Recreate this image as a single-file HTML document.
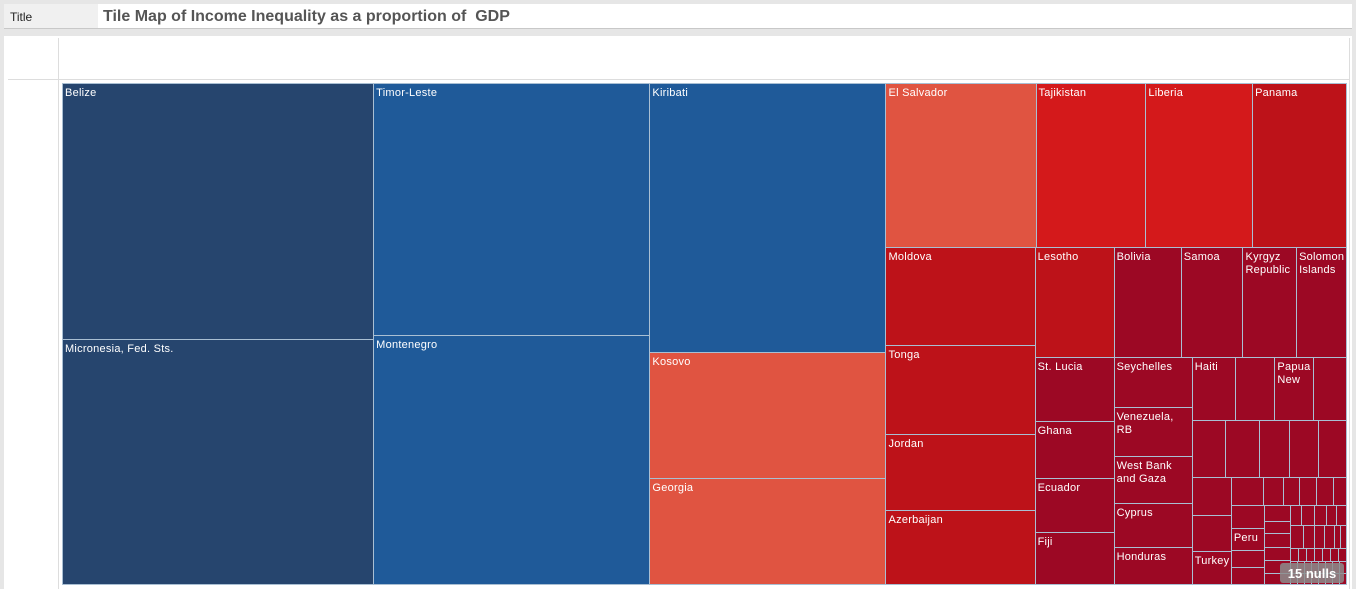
<!DOCTYPE html>
<html><head><meta charset="utf-8"><style>
body{margin:0;width:1356px;height:589px;background:#e6e6e6;font-family:"Liberation Sans",Arial,sans-serif;position:relative;overflow:hidden}
#titlebar{position:absolute;left:4px;top:4px;width:1348px;height:24px;background:#fff;border-bottom:1px solid #c8c8c8}
#tlabel{position:absolute;left:0;top:0;width:94px;height:24px;background:#f0f0f0;font-size:12px;line-height:26px;padding-left:6px;box-sizing:border-box;color:#222}
#ttext{position:absolute;left:99px;top:0;font-size:16px;font-weight:bold;color:#555;line-height:26px}
#panel{position:absolute;left:4px;top:36px;width:1348px;height:553px;background:#fff}
#vline{position:absolute;left:58px;top:38px;width:1px;height:551px;background:#ddd}
#hline{position:absolute;left:8px;top:79px;width:1342px;height:1px;background:#ddd}
#rline{position:absolute;left:1349px;top:38px;width:1px;height:551px;background:#ddd}
.tile{position:absolute;box-sizing:border-box;border:1px solid #a9bfd3;color:#fff;font-size:11px;letter-spacing:0.25px;line-height:13px;padding:3px 2px;overflow:hidden}
#nulls{position:absolute;left:1280px;top:563px;width:64px;height:20px;background:rgba(140,140,140,0.85);border-radius:3px;color:#fff;font-weight:bold;font-size:13px;line-height:21px;text-align:center}
</style></head><body>
<div id="titlebar"><div id="tlabel">Title</div><div id="ttext">Tile Map of Income Inequality as a proportion of&nbsp; GDP</div></div>
<div id="panel"></div>
<div id="vline"></div>
<div id="hline"></div>
<div id="rline"></div>
<div id="plot"></div>
<div id="nulls">15 nulls</div>
<script>
const tileNames = ["Belize","Micronesia, Fed. Sts.","Timor-Leste","Montenegro","Kiribati","Kosovo","Georgia",
"El Salvador","Tajikistan","Liberia","Panama","Moldova","Tonga","Jordan","Azerbaijan",
"Lesotho","Bolivia","Samoa","Kyrgyz Republic","Solomon Islands",
"St. Lucia","Ghana","Ecuador","Fiji","Seychelles","Venezuela, RB","West Bank and Gaza","Cyprus","Honduras",
"Haiti","","Papua New","","","","","","","","","Turkey",
"","","","","","","","Peru","","","","","","","","","","","","","","","","","","","","","","","","","","","","","","","","","","","","","","","","","","","",""];
const tileValues = [796,762,696,687,635,297,250,
246,180,175,154,146,133,113,110,
87,74,68,59,55,
50,45,43,41,39,38,37,34,29,
27,25,24,21,19,19,17,16,16,15,14,13,
9.2,5.6,4.5,4.8,4.8,3.6,
7.6,7.3,5.9,5.6,
4,3.3,3.5,3.3,3.3,2.8,
2.4,2.6,2.4,2.2,2,
3.1,2.4,2.2,2.2,1.5,1.3,
1,1,1,1,1,1,1,
0.85,0.85,0.85,0.85,0.85,0.85,0.85,0.85,
0.8,0.8,0.8,0.8,0.8,0.8,0.8,0.8];
const tileColors = ["#26456e","#26456e","#1f5a99","#1f5a99","#1f5a99","#e05441","#e05441",
"#e05441","#d4191b","#d4191b","#bd1219","#bd1219","#bd1219","#bd1219","#bd1219","#bd1219"];
const darkRed = "#9c0824";
function r(a,b){const o=[];for(let i=a;i<=b;i++)o.push(i);return o;}
const tree = ['h',[['v',[0,1]],['v',[2,3]],['v',[4,5,6]],
 ['v',[['h',[7,8,9,10]],
  ['h',[['v',[11,12,13,14]],
   ['v',[['h',[15,16,17,18,19]],
    ['h',[['v',[20,21,22,23]],['v',[24,25,26,27,28]],
     ['v',[['h',[29,30,31,32]],['h',[33,34,35,36,37]],
      ['h',[['v',[38,39,40]],
       ['v',[['h',r(41,46)],
        ['h',[['v',r(47,50)],['v',r(51,56)],
         ['v',[['h',r(57,61)],['h',r(62,67)],['h',r(68,74)],['h',r(75,82)],['h',r(83,90)]]]]]]]]]]]]]]]]]]]]];
const X0=62,Y0=83,W=1284,H=501;
function sum(n){return typeof n==='number'?tileValues[n]:n[1].reduce((s,c)=>s+sum(c),0);}
function layout(n,x,y,w,h){
 if(typeof n==='number'){draw(n,x,y,w,h);return;}
 const tot=sum(n);let off=0;
 n[1].forEach(c=>{const f=sum(c)/tot;
  if(n[0]==='h'){layout(c,x+off*w,y,f*w,h);}else{layout(c,x,y+off*h,w,f*h);}
  off+=f;});
}
const plot=document.getElementById('plot');
function draw(i,x,y,w,h){
 const d=document.createElement('div');d.className='tile';
 d.style.left=x+'px';d.style.top=y+'px';d.style.width=(w+1)+'px';d.style.height=(h+1)+'px';
 d.style.background=tileColors[i]||darkRed;
 d.textContent=tileNames[i];
 const nm=tileNames[i]?('tile-'+tileNames[i].toLowerCase().replace(/[^a-z]+/g,'-').replace(/-$/,'')):('tile-unlabeled-'+i);
 
 
 plot.appendChild(d);
}
layout(tree,X0,Y0,W,H);
</script>
</body></html>
